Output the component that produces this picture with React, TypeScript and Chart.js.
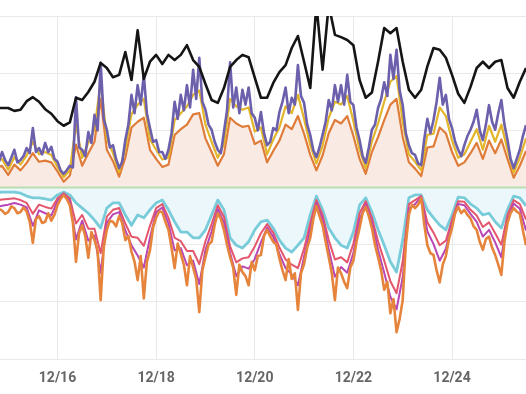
import React, { useEffect, useRef } from "react";
import { Chart, registerables } from "chart.js";

Chart.register(...registerables);

// Time axis: day-of-December. Coarse series: one sample every 3 hours from 12/14 18:00.
// Fine series (purple supply, orange demand): one sample every 1.5 hours from the same start.
const START_DAY = 14.75;
const STEP_DAYS = 0.125;
const FINE_STEP_DAYS = 0.0625;
const X_MIN = 14.834;
const X_MAX = 25.5;
const X_TICK_DAYS = [16, 18, 20, 22, 24];
const X_TICK_LABELS = ["12/16", "12/18", "12/20", "12/22", "12/24"];

const priceLine = [
  1.39, 1.39, 1.39, 1.34, 1.36, 1.51, 1.58, 1.5, 1.37, 1.29,
  1.16, 1.08, 1.14, 1.57, 1.53, 1.67, 1.85, 2.18, 2.09, 1.93,
  1.97, 2.37, 1.88, 2.75, 1.9, 2.2, 2.32, 2.16, 2.32, 2.23,
  2.32, 2.49, 2.23, 2.11, 1.81, 1.53, 1.48, 1.74, 2.11, 2.23,
  2.32, 2.28, 1.92, 1.57, 1.57, 1.83, 2.02, 2.14, 2.44, 2.65,
  2.2, 1.74, 3.2, 2.06, 3.2, 2.67, 2.63, 2.58, 2.49, 1.88,
  1.57, 1.66, 2.2, 2.79, 2.7, 2.79, 2.2, 1.71, 1.57, 1.71,
  2.12, 2.44, 2.41, 2.27, 1.97, 1.64, 1.48, 1.76, 2.09, 2.2,
  2.09, 2.2, 2.23, 1.74, 1.57, 1.85, 2.09, 2.2,
];

const supplyPurpleFine = [
  0.57, 0.45, 0.62, 0.48, 0.39, 0.52, 0.66, 0.44, 0.48, 0.55,
  0.69, 0.6, 1.04, 0.62, 0.69, 0.58, 0.78, 0.62, 0.71, 0.5,
  0.45, 0.3, 0.24, 0.3, 0.38, 0.35, 1.58, 0.7, 0.66, 0.55,
  0.97, 0.78, 1.27, 1.0, 2.18, 1.2, 1.01, 0.7, 0.74, 0.5,
  0.34, 0.45, 0.83, 1.1, 1.62, 1.3, 1.79, 1.45, 1.97, 1.3,
  1.04, 0.8, 0.83, 0.62, 0.62, 0.5, 0.66, 0.95, 1.5, 1.2,
  1.62, 1.35, 1.79, 1.4, 2.06, 1.55, 2.27, 1.5, 1.36, 1.1,
  1.01, 0.8, 0.66, 0.6, 0.97, 1.35, 2.19, 1.4, 1.75, 1.3,
  1.71, 1.45, 1.75, 1.3, 1.22, 1.0, 1.32, 0.95, 0.74, 0.8,
  1.04, 1.0, 1.32, 1.5, 1.75, 1.3, 1.57, 1.45, 2.14, 1.6,
  1.48, 1.1, 0.92, 0.65, 0.53, 0.7, 0.92, 1.15, 1.53, 1.35,
  1.79, 1.5, 1.79, 1.45, 1.97, 1.5, 1.44, 1.05, 0.83, 0.55,
  0.43, 0.7, 1.01, 1.1, 1.39, 1.55, 1.84, 1.6, 2.32, 1.9,
  2.41, 1.7, 1.44, 0.95, 0.74, 0.6, 0.57, 0.42, 0.39, 0.85,
  1.2, 0.95, 1.18, 1.5, 1.92, 1.45, 1.62, 1.2, 1.04, 0.8,
  0.66, 0.55, 0.74, 0.9, 1.01, 1.15, 1.36, 1.0, 0.83, 1.1,
  1.44, 1.15, 1.01, 1.3, 1.53, 1.1, 0.83, 0.5, 0.34, 0.5,
  0.66, 0.9, 1.09, 1.0, 1.27,
];

const supplyYellow = [
  0.46, 0.5, 0.31, 0.53, 0.4, 0.56, 0.8, 0.58, 0.62, 0.57,
  0.36, 0.18, 0.3, 1.1, 0.52, 0.78, 1.02, 1.85, 0.85, 0.6,
  0.27, 0.68, 1.28, 1.45, 1.55, 0.84, 0.66, 0.49, 0.52, 1.18,
  1.3, 1.42, 1.62, 1.7, 1.1, 0.8, 0.52, 0.76, 1.55, 1.42,
  1.36, 1.4, 0.98, 1.05, 0.58, 0.84, 1.05, 1.42, 1.3, 1.62,
  1.2, 0.74, 0.42, 0.73, 1.22, 1.5, 1.45, 1.6, 1.16, 0.66,
  0.34, 0.8, 1.12, 1.5, 1.85, 1.95, 1.15, 0.58, 0.45, 0.3,
  0.92, 0.94, 1.4, 1.25, 0.82, 0.52, 0.58, 0.8, 1.02, 0.66,
  1.08, 0.8, 1.1, 0.66, 0.26, 0.52, 0.86, 1.0,
];

const supplyOrange = [
  0.34, 0.38, 0.22, 0.4, 0.3, 0.43, 0.6, 0.45, 0.47, 0.44,
  0.28, 0.1, 0.21, 0.75, 0.38, 0.6, 0.8, 1.55, 0.66, 0.46,
  0.19, 0.52, 1.05, 1.15, 1.22, 0.66, 0.5, 0.36, 0.4, 0.92,
  1.02, 1.1, 1.28, 1.3, 0.86, 0.62, 0.38, 0.58, 1.22, 1.12,
  1.06, 1.08, 0.76, 0.82, 0.44, 0.64, 0.82, 1.1, 1.02, 1.25,
  0.94, 0.57, 0.3, 0.56, 0.95, 1.18, 1.12, 1.25, 0.9, 0.5,
  0.24, 0.62, 0.88, 1.18, 1.45, 1.55, 0.88, 0.44, 0.33, 0.2,
  0.7, 0.72, 1.05, 0.95, 0.62, 0.38, 0.44, 0.6, 0.78, 0.5,
  0.82, 0.6, 0.84, 0.5, 0.17, 0.38, 0.64, 0.76,
];

const demandCyan = [
  -0.1, -0.08, -0.08, -0.08, -0.1, -0.15, -0.18, -0.18, -0.2, -0.22,
  -0.13, -0.08, -0.13, -0.27, -0.36, -0.45, -0.57, -0.71, -0.36, -0.27,
  -0.27, -0.48, -0.66, -0.48, -0.53, -0.39, -0.27, -0.22, -0.39, -0.6,
  -0.78, -0.78, -0.88, -0.88, -0.74, -0.48, -0.22, -0.39, -0.88, -1.01,
  -1.06, -0.95, -0.74, -0.6, -0.57, -0.71, -0.92, -1.06, -1.13, -1.01,
  -0.88, -0.48, -0.15, -0.39, -0.71, -0.88, -1.01, -1.06, -0.78, -0.31,
  -0.18, -0.43, -0.74, -1.01, -1.3, -1.48, -0.92, -0.18, -0.13, -0.13,
  -0.39, -0.53, -0.66, -0.74, -0.48, -0.17, -0.18, -0.29, -0.36, -0.48,
  -0.45, -0.6, -0.71, -0.39, -0.15, -0.18, -0.32, -0.43,
];

const demandPink = [
  -0.23, -0.21, -0.2, -0.19, -0.22, -0.27, -0.46, -0.3, -0.34, -0.37,
  -0.19, -0.1, -0.19, -0.63, -0.48, -0.72, -0.72, -1.15, -0.51, -0.39,
  -0.36, -0.63, -0.86, -0.88, -1.02, -0.67, -0.36, -0.29, -0.53, -0.88,
  -0.94, -1.11, -1.11, -1.34, -0.94, -0.64, -0.31, -0.51, -1.03, -1.31,
  -1.24, -1.22, -1.03, -0.8, -0.64, -0.79, -1.05, -1.26, -1.35, -1.41,
  -1.07, -0.62, -0.22, -0.48, -0.92, -1.26, -1.22, -1.31, -0.98, -0.45,
  -0.24, -0.53, -0.94, -1.28, -1.64, -1.85, -1.29, -0.29, -0.22, -0.15,
  -0.61, -0.79, -1.01, -0.93, -0.56, -0.24, -0.25, -0.39, -0.49, -0.69,
  -0.61, -0.8, -1.0, -0.48, -0.22, -0.29, -0.56, -0.66,
];

const demandMagenta = [
  -0.34, -0.32, -0.3, -0.27, -0.3, -0.35, -0.67, -0.4, -0.45, -0.49,
  -0.24, -0.11, -0.24, -0.91, -0.58, -0.93, -0.84, -1.49, -0.62, -0.47,
  -0.43, -0.75, -1.01, -1.19, -1.4, -0.88, -0.43, -0.35, -0.63, -1.1,
  -1.06, -1.36, -1.28, -1.69, -1.09, -0.77, -0.38, -0.61, -1.14, -1.55,
  -1.38, -1.42, -1.25, -0.96, -0.7, -0.86, -1.16, -1.41, -1.52, -1.71,
  -1.21, -0.73, -0.27, -0.56, -1.08, -1.56, -1.39, -1.49, -1.14, -0.56,
  -0.29, -0.6, -1.09, -1.49, -1.91, -2.13, -1.57, -0.37, -0.29, -0.16,
  -0.77, -0.99, -1.28, -1.07, -0.62, -0.29, -0.31, -0.46, -0.6, -0.86,
  -0.74, -0.96, -1.22, -0.56, -0.28, -0.37, -0.75, -0.84,
];

const demandOrangeFine = [
  -0.48, -0.38, -0.4, -0.46, -0.43, -0.33, -0.36, -0.45, -0.43, -0.35,
  -0.42, -0.6, -0.97, -0.55, -0.5, -0.62, -0.6, -0.45, -0.58, -0.48,
  -0.31, -0.2, -0.13, -0.2, -0.31, -0.62, -1.3, -0.8, -0.66, -0.85,
  -1.23, -0.78, -0.92, -1.1, -1.97, -1.05, -0.74, -0.58, -0.6, -0.68,
  -0.5, -0.62, -0.92, -0.85, -1.12, -1.3, -1.62, -1.2, -1.94, -1.3,
  -1.1, -0.7, -0.53, -0.42, -0.43, -0.6, -0.74, -1.05, -1.41, -0.98,
  -1.16, -1.35, -1.71, -1.2, -1.4, -1.6, -2.18, -1.45, -1.22, -1.0,
  -0.95, -0.65, -0.45, -0.55, -0.74, -1.0, -1.22, -1.4, -1.88, -1.35,
  -1.48, -1.55, -1.71, -1.3, -1.45, -1.2, -1.18, -0.85, -0.74, -0.85,
  -0.95, -1.0, -1.24, -1.45, -1.62, -1.25, -1.6, -1.5, -2.14, -1.5,
  -1.34, -1.05, -0.88, -0.55, -0.32, -0.5, -0.66, -0.95, -1.22, -1.5,
  -1.97, -1.4, -1.5, -1.65, -1.76, -1.4, -1.28, -0.95, -0.71, -0.45,
  -0.34, -0.5, -0.71, -1.0, -1.22, -1.45, -1.79, -1.65, -2.2, -1.95,
  -2.53, -2.3, -1.97, -1.0, -0.48, -0.3, -0.36, -0.3, -0.18, -0.65,
  -1.01, -1.15, -1.18, -1.45, -1.66, -1.35, -1.2, -0.9, -0.71, -0.45,
  -0.34, -0.45, -0.39, -0.48, -0.54, -0.68, -0.74, -0.95, -1.09, -0.9,
  -0.86, -1.05, -1.18, -1.35, -1.53, -0.95, -0.62, -0.45, -0.36, -0.42,
  -0.46, -0.75, -1.01, -0.85, -1.0,
];

const toPoints = (values: number[], step: number) =>
  values.map((v, i) => ({ x: START_DAY + i * step, y: v }));

const GRID = "#e9e9e9";

const zeroLinePlugin = {
  id: "zeroLine",
  afterDatasetsDraw(chart: any) {
    const { ctx, chartArea, scales } = chart;
    const y = scales.y.getPixelForValue(0);
    ctx.save();
    ctx.strokeStyle = "#b9ddb0";
    ctx.lineWidth = 2;
    ctx.beginPath();
    ctx.moveTo(chartArea.left, y);
    ctx.lineTo(chartArea.right, y);
    ctx.stroke();
    ctx.restore();
  },
};

export default function App() {
  const canvasRef = useRef<HTMLCanvasElement | null>(null);

  useEffect(() => {
    if (!canvasRef.current) return;
    const line = (
      data: number[],
      step: number,
      color: string,
      width: number,
      extra: any = {}
    ) => ({
      data: toPoints(data, step),
      borderColor: color,
      backgroundColor: color,
      borderWidth: width,
      pointRadius: 0,
      tension: 0,
      fill: false,
      borderJoinStyle: "round",
      ...extra,
    });
    const chart = new Chart(canvasRef.current, {
      type: "line",
      data: {
        datasets: [
          line(priceLine, STEP_DAYS, "#151515", 2.6),
          line(supplyPurpleFine, FINE_STEP_DAYS, "#6c5fab", 2.6),
          line(supplyYellow, STEP_DAYS, "#e2b52a", 2.2),
          line(supplyOrange, STEP_DAYS, "#df7c3a", 2.2, {
            fill: { value: 0 },
            backgroundColor: "#f9ebe4",
          }),
          line(demandOrangeFine, FINE_STEP_DAYS, "#e6843c", 2.6),
          line(demandMagenta, STEP_DAYS, "#b846b4", 2),
          line(demandPink, STEP_DAYS, "#e4566c", 2),
          line(demandCyan, STEP_DAYS, "#78cbd9", 2.8, {
            fill: { value: 0 },
            backgroundColor: "#ecf7fb",
          }),
        ],
      },
      options: {
        animation: false,
        responsive: true,
        maintainAspectRatio: false,
        layout: { padding: { top: 16, left: 0, right: 0, bottom: 7 } },
        plugins: {
          legend: { display: false },
          tooltip: { enabled: false },
        },
        scales: {
          x: {
            type: "linear",
            min: X_MIN,
            max: X_MAX,
            afterBuildTicks: (axis: any) => {
              axis.ticks = X_TICK_DAYS.map((v) => ({ value: v }));
            },
            afterFit: (axis: any) => {
              axis.height = 28;
            },
            grid: { color: GRID, drawTicks: false, lineWidth: 1 },
            border: { color: GRID },
            ticks: {
              padding: 11,
              maxRotation: 0,
              autoSkip: false,
              color: "#666",
              font: { family: "Roboto", size: 14, weight: "bold" },
              callback: (value: any) => {
                const idx = X_TICK_DAYS.indexOf(Number(value));
                return idx >= 0 ? X_TICK_LABELS[idx] : "";
              },
            },
          },
          y: {
            min: -3,
            max: 3,
            grid: { color: GRID, drawTicks: false, lineWidth: 1 },
            border: { display: false },
            ticks: { display: false, stepSize: 1 },
          },
        },
      },
      plugins: [zeroLinePlugin],
    } as any);
    return () => chart.destroy();
  }, []);

  return (
    <div style={{ position: "fixed", left: 0, top: 0, width: 526, height: 394 }}>
      <canvas ref={canvasRef} />
    </div>
  );
}
